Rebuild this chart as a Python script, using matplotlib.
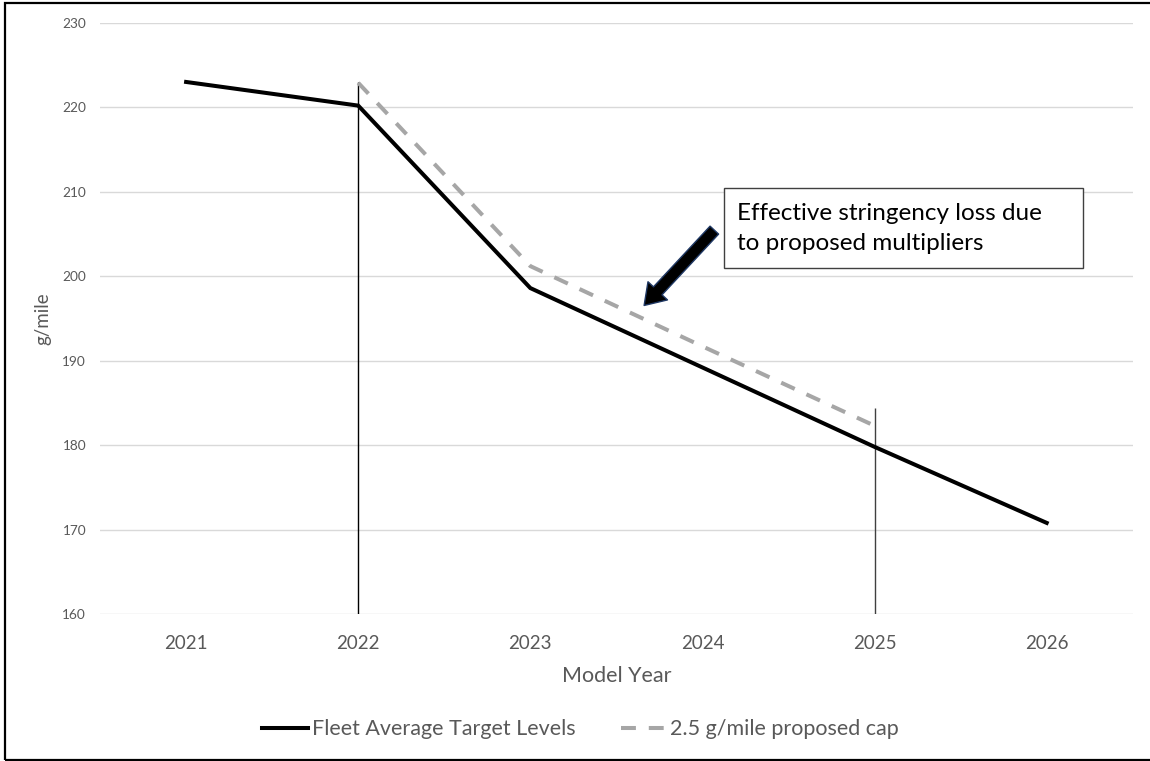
import numpy as np
import matplotlib.pyplot as plt
from matplotlib.patches import Rectangle, FancyArrowPatch

plt.rcParams['font.family'] = ['Lato', 'DejaVu Sans']

# model years and fleet targets (g/mile)
years = ['2021', '2022', '2023', '2024', '2025', '2026']
fleet_target = [223.0, 220.2, 198.6, 189.2, 179.8, 170.8]

# proposed cap series, only defined 2022-2025
cap_years = ['2022', '2023', '2024', '2025']
cap_values = [222.9, 201.2, 191.7, 182.3]

# vertical marker lines bracketing the multiplier period
bracket_years = ['2022', '2025']
bracket_tops = [223.0, 184.4]

note = 'Effective stringency loss due\nto proposed multipliers'

grey_txt = '#595959'

fig = plt.figure(figsize=(11.5, 7.61), dpi=100)
ax = fig.add_axes([0.087, 0.193, 0.898, 0.777])

xpos = {y: i for i, y in enumerate(years)}

ax.plot([xpos[y] for y in years], fleet_target, color='black', lw=2.9,
        solid_joinstyle='miter', label='Fleet Average Target Levels', zorder=4)
ax.plot([xpos[y] for y in cap_years], cap_values, color='#a6a6a6', lw=2.9,
        dashes=(3.7, 3.2), label='2.5 g/mile proposed cap', zorder=3)

# thin vertical brackets
ax.vlines(xpos[bracket_years[0]], 160, bracket_tops[0], color='black', lw=1.0, zorder=2)
ax.vlines(xpos[bracket_years[1]], 160, bracket_tops[1], color='#404040', lw=1.0, zorder=2)

ax.set_xlim(-0.5, len(years) - 0.5)
ax.set_ylim(160, 230)
ax.set_yticks(np.arange(160, 231, 10))
ax.set_xticks(range(len(years)))
ax.set_xticklabels(years)
ax.yaxis.grid(True, color='#d9d9d9', lw=1.0)
ax.set_axisbelow(True)
for s in ax.spines.values():
    s.set_visible(False)
ax.tick_params(length=0)
ax.tick_params(axis='x', labelsize=13.5, colors=grey_txt, pad=15)
ax.tick_params(axis='y', labelsize=9.8, colors=grey_txt, pad=10)
ax.set_xlabel('Model Year', fontsize=15.5, color=grey_txt, labelpad=10)
ax.set_ylabel('g/mile', fontsize=13.5, color=grey_txt, labelpad=8)

# callout box and arrow
ax.add_patch(Rectangle((0.604, 0.585), 0.3475, 0.135, transform=ax.transAxes,
                       facecolor='white', edgecolor='#404040', lw=1.0, zorder=5))
ax.text(0.617, 0.652, note, transform=ax.transAxes, fontsize=17.5,
        va='center', ha='left', linespacing=1.55, color='black', zorder=6)
arrow = FancyArrowPatch((3.08, 205.7), (2.65, 196.3),
                        arrowstyle='simple,head_width=1.6,head_length=1.2,tail_width=0.7',
                        mutation_scale=12, facecolor='black', edgecolor='#1f3864',
                        lw=1.0, zorder=6)
ax.add_patch(arrow)

fig.legend(loc='center', bbox_to_anchor=(0.505, 0.042), ncol=2, frameon=False,
           fontsize=15.5, handlelength=2.1, handletextpad=0.2, columnspacing=2.1,
           labelcolor=grey_txt)

# outer chart frame
fig.patches.append(Rectangle((5 / 1150, 1 / 761), 1.1, 757 / 761, transform=fig.transFigure,
                             fill=False, edgecolor='black', lw=1.6))

fig.savefig('out.png', dpi=100)
